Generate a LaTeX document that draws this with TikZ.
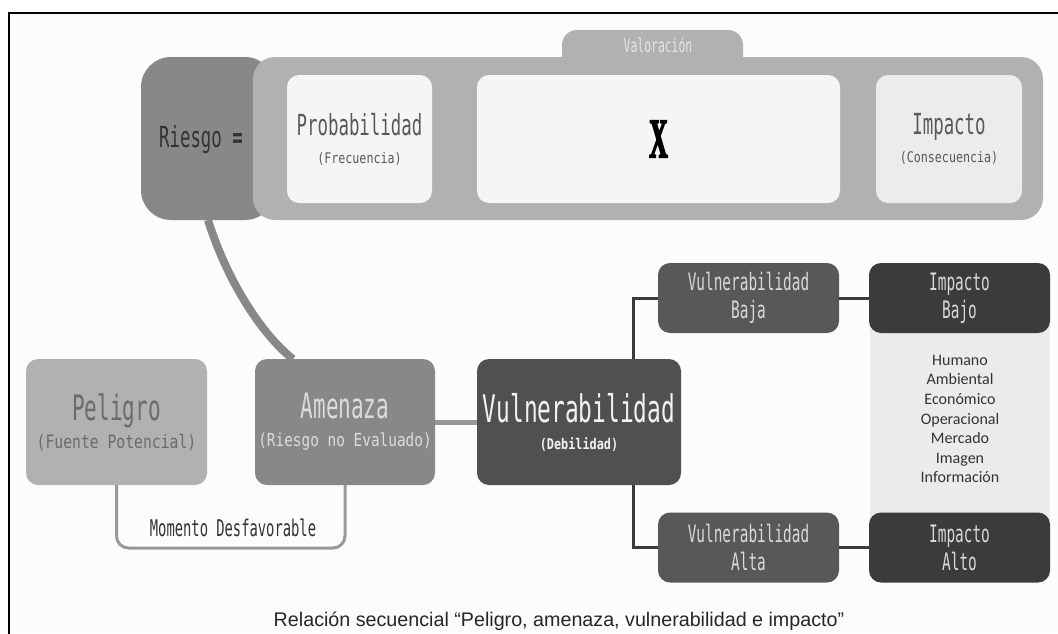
\documentclass[tikz,border=0pt]{standalone}
\usepackage{fontspec}
\usepackage{xcolor}
\newfontfamily\condA[FakeStretch=0.6]{DejaVu Sans Mono}
\newfontfamily\condB[FakeStretch=0.8]{DejaVu Sans Mono}
\newfontfamily\listfont{Carlito}
\newfontfamily\capfont{Liberation Sans}
\newfontfamily\xfont[FakeStretch=0.45,FakeBold=2.5]{Liberation Serif Bold}
\newcommand{\fsz}[2]{\fontsize{#1}{#2}\selectfont}
\definecolor{cBg}{HTML}{FCFCFC}
\definecolor{cRisk}{HTML}{888888}
\definecolor{cVal}{HTML}{B1B1B1}
\definecolor{cPaper}{HTML}{F5F5F5}
\definecolor{cImp}{HTML}{ECECEC}
\definecolor{cVul}{HTML}{505050}
\definecolor{cVBox}{HTML}{585858}
\definecolor{cIBox}{HTML}{3B3B3B}
\definecolor{cCol}{HTML}{EBEBEB}

\begin{document}
\begin{tikzpicture}[x=1pt,y=-1pt,
  box/.style={rounded corners=12,inner sep=0,outer sep=0,align=center},
  bigbox/.style={box,minimum width=181,minimum height=126,font=\condA\fsz{35}{28}},
  smallbox/.style={box,minimum width=181,minimum height=70,font=\condA\fsz{24}{28}},
  link/.style={line width=3pt,color=cIBox}]
\useasboundingbox (0,0) rectangle (1058,633);
\fill[white] (0,0) rectangle (1058,633);
\fill[cBg] (10,14) rectangle (1058,633);
\draw[line width=2pt] (9,640) -- (9,13) -- (1070,13);
\fill[cCol] (870,320) rectangle (1050,525);
\node[align=center,text=black!80,font=\listfont\fsz{16}{19.6}] (lista) at (960,419)
  {Humano\\Ambiental\\Económico\\Operacional\\Mercado\\Imagen\\Información};
\node[box,fill=cVal,rounded corners=15,minimum width=181,minimum height=50,anchor=north] (valoracion) at (652.5,30) {};
\node[text=white!90!black,font=\condA\fsz{19}{20}] (valtxt) at (658,45) {Valoración};
\node[box,fill=cRisk,rounded corners=30,minimum width=134,minimum height=163] (riesgo) at (208,138.5) {};
\node[box,fill=cVal,rounded corners=22,minimum width=790,minimum height=163] (valor) at (648,138.5) {};
\node[text=black!80,font=\condA\fsz{29}{30}] (riesgotxt) at (201,140) {Riesgo \textbf{=}};
\node[box,fill=cPaper,minimum width=145,minimum height=128,text=black!65,font=\condA\fsz{29}{28}] (prob) at (359.5,139)
  {Probabilidad\\{\condB\fsz{14.6}{16}(Frecuencia)}};
\node[box,fill=cPaper,minimum width=363,minimum height=128,font=\xfont\fsz{56}{56}] (xbox) at (658.5,139) {X};
\node[box,fill=cImp,minimum width=146,minimum height=128,text=black!65,font=\condA\fsz{29}{28}] (impacto) at (949,139)
  {Impacto\\{\condB\fsz{14.6}{16}(Consecuencia)}};
\node[bigbox,fill=cVal,text=black!58] (peligro) at (116.5,422)
  {Peligro\\{\condB\fsz{18.4}{20}(Fuente Potencial)}};
\node[bigbox,minimum width=180,fill=cRisk,text=white!86!black] (amenaza) at (345,422)
  {Amenaza\\{\condB\fsz{18}{20}(Riesgo no Evaluado)}};
\node[bigbox,minimum width=204,fill=cVul,text=white!95!black,font=\condA\fsz{38}{27}] (vuln) at (579,422)
  {Vulnerabilidad\\{\condB\bfseries\fsz{14.8}{16}(Debilidad)}};
\node[smallbox,fill=cVBox,text=white!85!black] (vbaja) at (748.5,298) {Vulnerabilidad\\Baja};
\node[smallbox,fill=cIBox,text=white!85!black] (ibajo) at (959.5,298) {Impacto\\Bajo};
\node[smallbox,fill=cVBox,text=white!85!black] (valta) at (748.5,547.5) {Vulnerabilidad\\Alta};
\node[smallbox,fill=cIBox,text=white!85!black] (ialto) at (959.5,547.5) {Impacto\\Alto};
\coordinate (splitT) at (633,359);
\coordinate (splitB) at (633,485);
\draw[line width=8pt,cRisk] (riesgo.south) .. controls (230,290) and (268,340) .. ([xshift=-52]amenaza.north);
\draw[line width=5pt,black!40] (amenaza) -- (vuln);
\draw[line width=3pt,black!40,rounded corners=12] (peligro.south) -- ++(0,63) -| (amenaza.south);
\node[text=black!80,font=\condA\fsz{23}{24}] (momento) at (233,528) {Momento Desfavorable};
\draw[link] (vbaja.west) -| (splitT);
\draw[link] (splitB) |- (valta.west);
\draw[link] (vbaja) -- (ibajo);
\draw[link] (valta) -- (ialto);
\node[text=black!85,font=\capfont\fsz{19.7}{24}] (caption) at (559,621)
  {Relación secuencial “Peligro, amenaza, vulnerabilidad e impacto”};
\end{tikzpicture}
\end{document}
